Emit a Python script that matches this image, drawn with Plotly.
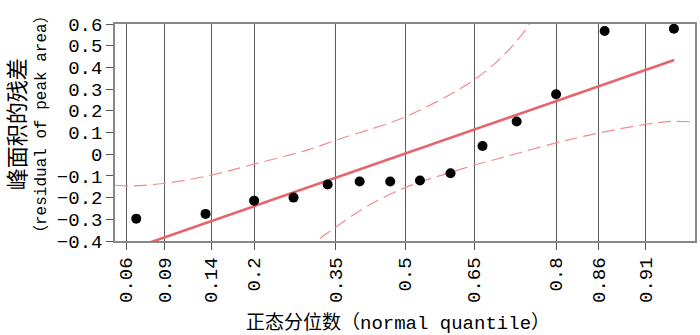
import plotly.graph_objects as go
from statistics import NormalDist

nd = NormalDist()

# Tick labels (cumulative probability) on the normal-quantile axis
tick_probs = [0.06, 0.09, 0.14, 0.2, 0.35, 0.5, 0.65, 0.8, 0.86, 0.91]

# Residual points: plotting position (probability) and residual value
point_probs = [0.067, 0.133, 0.2, 0.267, 0.333, 0.4, 0.467,
               0.533, 0.6, 0.667, 0.733, 0.8, 0.867, 0.933]
residuals = [-0.297, -0.275, -0.214, -0.200, -0.140, -0.126, -0.126,
             -0.121, -0.088, 0.038, 0.151, 0.276, 0.568, 0.578]

# Fitted reference line (normal quantile z, residual)
fit_z = [-1.5, 1.5]
fit_y = [-0.429, 0.434]

# Confidence band, upper (z, residual)
upper_z = [-1.617, -1.533, -1.348, -1.089, -0.848, -0.533, -0.385,
           0.0, 0.383, 0.559, 0.689, 0.74]
upper_y = [-0.143, -0.146, -0.135, -0.098, -0.047, 0.022, 0.065,
           0.172, 0.342, 0.465, 0.595, 0.68]

# Confidence band, lower (z, residual)
lower_z = [-0.56, -0.478, -0.385, -0.218, 0.0, 0.244, 0.383, 0.522,
           0.841, 1.083, 1.343, 1.485, 1.622]
lower_y = [-0.44, -0.390, -0.335, -0.243, -0.154, -0.086, -0.051, -0.020,
           0.052, 0.098, 0.138, 0.151, 0.148]

y_ticks = [-0.4, -0.3, -0.2, -0.1, 0, 0.1, 0.2, 0.3, 0.4, 0.5, 0.6]

FONT = "Liberation Mono, Noto Sans CJK SC, monospace"
BAND = "#f28a8f"
FIT = "#e8646c"

fig = go.Figure()

fig.add_trace(go.Scatter(x=upper_z, y=upper_y, mode="lines",
                         line=dict(color=BAND, width=1.2, dash="13px,6px", shape="spline"),
                         hoverinfo="skip", showlegend=False))
fig.add_trace(go.Scatter(x=lower_z, y=lower_y, mode="lines",
                         line=dict(color=BAND, width=1.2, dash="13px,6px", shape="spline"),
                         hoverinfo="skip", showlegend=False))
fig.add_trace(go.Scatter(x=fit_z, y=fit_y, mode="lines",
                         line=dict(color=FIT, width=2.6),
                         showlegend=False))
fig.add_trace(go.Scatter(x=[nd.inv_cdf(p) for p in point_probs], y=residuals,
                         mode="markers",
                         marker=dict(color="black", size=10),
                         showlegend=False, cliponaxis=False))

fig.update_layout(
    width=700, height=335,
    margin=dict(l=115, r=3, t=24, b=94),
    plot_bgcolor="white", paper_bgcolor="white",
    font=dict(family=FONT, size=18, color="black"),
    xaxis=dict(
        range=[-1.617, 1.616],
        tickmode="array",
        tickvals=[nd.inv_cdf(p) for p in tick_probs],
        ticktext=[str(p) for p in tick_probs],
        tickangle=-90,
        ticks="outside", ticklen=7, tickcolor="#555", tickwidth=1.3,
        showgrid=True, gridcolor="#5a5a5a", gridwidth=1.4,
        showline=True, linecolor="#888", linewidth=1.5, mirror=True,
        zeroline=False,
        tickfont=dict(family=FONT, size=19),
    ),
    yaxis=dict(
        range=[-0.4, 0.6],
        tickmode="array",
        tickvals=y_ticks,
        ticks="outside", ticklen=7, tickcolor="#555", tickwidth=1.3,
        showgrid=False,
        showline=True, linecolor="#888", linewidth=1.5, mirror=True,
        zeroline=False,
        tickfont=dict(family=FONT, size=19),
    ),
    annotations=[
        dict(text="<span style='font-size:22px'>峰面积的残差</span><br>（residual of peak area）",
             xref="paper", yref="paper", x=-0.148, y=0.54,
             xanchor="center", yanchor="middle", textangle=-90,
             showarrow=False, align="center",
             font=dict(family=FONT, size=16, color="black")),
        dict(text="正态分位数（normal quantile）",
             xref="paper", yref="paper", x=0.488, y=-0.378,
             xanchor="center", yanchor="middle",
             showarrow=False,
             font=dict(family=FONT, size=19, color="black")),
    ],
)

fig.write_html("out.html", config={"displayModeBar": False},
               post_script="document.body.style.margin='0';")
